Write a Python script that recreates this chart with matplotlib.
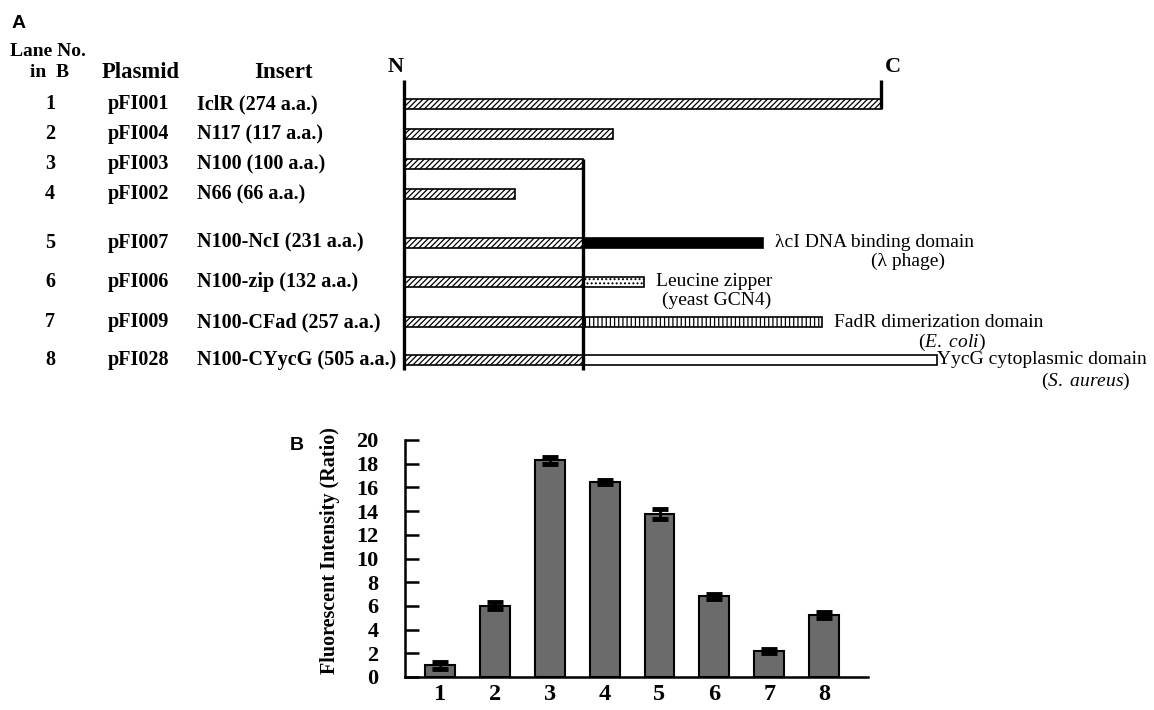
import matplotlib
matplotlib.use("Agg")
import matplotlib.pyplot as plt

# panel A: constructs
lanes = ["1", "2", "3", "4", "5", "6", "7", "8"]
plasmids = ["pFI001", "pFI004", "pFI003", "pFI002", "pFI007", "pFI006", "pFI009", "pFI028"]
inserts = ["IclR (274 a.a.)", "N117 (117 a.a.)", "N100 (100 a.a.)", "N66 (66 a.a.)",
           "N100-NcI (231 a.a.)", "N100-zip (132 a.a.)", "N100-CFad (257 a.a.)",
           "N100-CYycG (505 a.a.)"]
# drawn length of the IclR N-terminal part (scale: full IclR = 274)
iclr_len = [274, 120, 103, 64, 103, 103, 103, 103]
# drawn end of the fused domain (0 = none)
fused_end = [0, 0, 0, 0, 206, 138, 240, 306]
domain_names = ["", "", "", "", "λcI DNA binding domain", "Leucine zipper",
                "FadR dimerization domain", "YycG cytoplasmic domain"]
domain_src = ["", "", "", "", "(λ phage)", "(yeast GCN4)", "($\\it{E.\\ coli}$)",
              "($\\it{S.\\ aureus}$)"]

# panel B: fluorescence
intensity = [1.0, 6.0, 18.3, 16.45, 13.75, 6.8, 2.2, 5.2]
errors = [0.3, 0.3, 0.3, 0.15, 0.45, 0.2, 0.15, 0.25]

serif = "Liberation Serif"
plt.rcParams["mathtext.fontset"] = "custom"
plt.rcParams["mathtext.rm"] = serif
plt.rcParams["mathtext.it"] = serif + ":italic"
plt.rcParams["hatch.linewidth"] = 0.9

fig = plt.figure(figsize=(11.54, 7.10), dpi=100)

# ---- panel A ----
W, H = 1154, 710
x0px, scale = 404, 477 / 274
row0px, rowpx = 104, 30
row_y = [0, 1, 2, 3, 4.63, 5.93, 7.27, 8.53]
bh = 0.33

axa = fig.add_axes([0, 0, 1, 1])
axa.set_xlim(-x0px / scale, (W - x0px) / scale)
axa.set_ylim((H - row0px) / rowpx, -row0px / rowpx)
axa.axis("off")

styles = {4: dict(color="black", hatch=None),
          5: dict(color="white", hatch="...."),
          6: dict(color="white", hatch="||||"),
          7: dict(color="white", hatch=None)}

for i in range(8):
    y = row_y[i]
    axa.barh(y, iclr_len[i], height=bh, left=0, color="white",
             edgecolor="black", hatch="//////", linewidth=1.2)
    if fused_end[i]:
        st = styles[i]
        axa.barh(y, fused_end[i] - iclr_len[i], height=bh, left=iclr_len[i],
                 color=st["color"], hatch=st["hatch"], edgecolor="black", linewidth=1.2)

top = -0.8
bottom = 8.87
axa.plot([0, 0], [top, bottom], color="black", lw=2.4, solid_capstyle="butt")
axa.plot([274, 274], [top, bh / 2], color="black", lw=2.4, solid_capstyle="butt")
axa.plot([103, 103], [2 - bh / 2, bottom], color="black", lw=2.4, solid_capstyle="butt")
axa.text(-5, top - 0.1, "N", ha="center", va="bottom", fontsize=16,
         fontweight="bold", family=serif)
axa.text(274 + 2, top - 0.1, "C", ha="left", va="bottom", fontsize=16,
         fontweight="bold", family=serif)

tr = axa.get_yaxis_transform()
axa.text(12 / W, 1 - 24 / H, "A", transform=axa.transAxes, fontsize=14,
         fontweight="bold", family="Liberation Sans", va="center")
axa.text(10 / W, -1.75, "Lane No.", transform=tr, fontsize=14, fontweight="bold",
         family=serif, va="center")
axa.text(50 / W, -1.05, "in  B", transform=tr, fontsize=14, fontweight="bold",
         family=serif, va="center", ha="center")
axa.text(141 / W, -1.05, "Plasmid", transform=tr, fontsize=16.3, fontweight="bold",
         family=serif, va="center", ha="center")
axa.text(283 / W, -1.05, "Insert", transform=tr, fontsize=16.5, fontweight="bold",
         family=serif, va="center", ha="center")

for i in range(8):
    y = row_y[i]
    axa.text(50 / W, y, lanes[i], transform=tr, fontsize=14.5, fontweight="bold",
             family=serif, va="center", ha="center")
    axa.text(108 / W, y, plasmids[i], transform=tr, fontsize=14.5, fontweight="bold",
             family=serif, va="center")
    axa.text(197 / W, y, inserts[i], transform=tr, fontsize=14.5, fontweight="bold",
             family=serif, va="center")

# domain annotations
name_dx = [0, 0, 0, 0, 7, 7, 7, 0]
src_dx = [0, 0, 0, 0, 55, 3, 48, 60]
src_dy = [0, 0, 0, 0, 0.62, 0.6, 0.68, 0.72]
for i in range(4, 8):
    y = row_y[i]
    axa.text(fused_end[i] + name_dx[i], y, domain_names[i], fontsize=14,
             family=serif, va="center", ha="left")
    axa.text(fused_end[i] + name_dx[i] + src_dx[i], y + src_dy[i], domain_src[i],
             fontsize=14, family=serif, va="center", ha="left")

# ---- panel B ----
axb = fig.add_axes([405 / W, 1 - 677 / H, (868 - 405) / W, (677 - 440) / H])
x = range(1, 9)
axb.bar(x, intensity, width=0.545, color="#6b6b6b", edgecolor="black", linewidth=1.5)
axb.errorbar(x, intensity, yerr=errors, fmt="none", ecolor="black", elinewidth=2,
             capsize=5.5, capthick=3.5)
axb.set_xlim(0.36, 8.8)
axb.set_ylim(0, 20)
axb.set_yticks(range(0, 21, 2))
axb.set_xticks(list(x))
axb.set_xticklabels([str(v) for v in x])
for s in ["top", "right"]:
    axb.spines[s].set_visible(False)
for s in ["left", "bottom"]:
    axb.spines[s].set_linewidth(1.8)
axb.tick_params(axis="y", direction="in", length=10, width=1.8, labelsize=16, pad=19)
axb.tick_params(axis="x", length=0, labelsize=17.5, pad=5)
for lab in axb.get_yticklabels() + axb.get_xticklabels():
    lab.set_family(serif)
    lab.set_fontweight("bold")
axb.set_ylabel("Fluorescent Intensity (Ratio)", family=serif, fontweight="bold",
               fontsize=14.5)
axb.yaxis.set_label_coords(-0.14, 0.535)
fig.text(290 / W, 1 - 445 / H, "B", fontsize=14, fontweight="bold",
         family="Liberation Sans", va="center")

fig.savefig("out.png", dpi=100)
